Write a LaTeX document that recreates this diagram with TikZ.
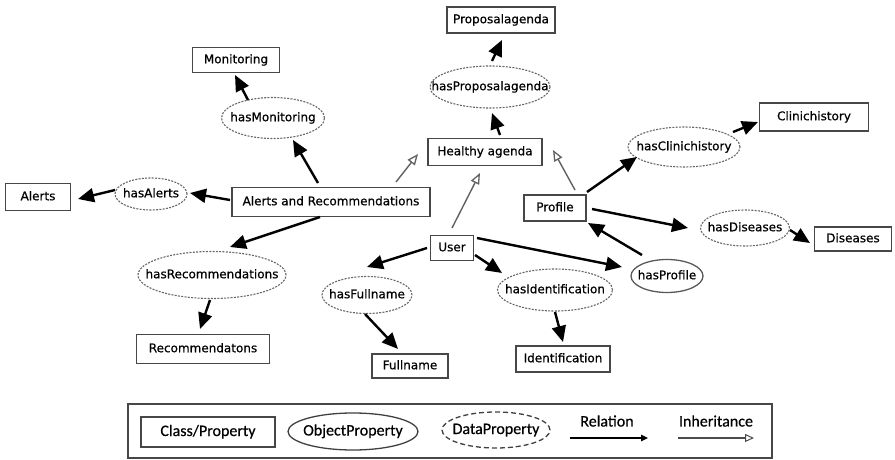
\documentclass[tikz,border=0pt]{standalone}
\usepackage{fontspec}
\setmainfont{DejaVu Sans}[UprightFeatures={FakeBold=0.6}]
\newfontfamily\legfont{Carlito}[UprightFeatures={FakeBold=0.5}]
\usetikzlibrary{arrows.meta,shapes.geometric}
\newcommand{\zw}[1]{\makebox[0pt]{#1}}
\begin{document}
\begin{tikzpicture}[x=1pt,y=-1pt,
  font=\fontsize{12}{14}\selectfont,
  cls/.style={draw=black!72, line width=1.3pt, rectangle, inner sep=0pt,
              text height=9pt, text depth=2.5pt},
  dprop/.style={draw=black!60, line width=1.1pt, dash pattern=on 2pt off 1.3pt,
                ellipse, inner sep=0pt, text height=9pt, text depth=2.5pt},
  oprop/.style={draw=black!65, line width=1.3pt, ellipse, inner sep=0pt,
                text height=9pt, text depth=2.5pt},
  rel/.style={line width=2.4pt, -{Triangle[length=16pt,width=14pt]}},
  inh/.style={draw=black!62, line width=1.4pt,
              -{Triangle[open,length=11pt,width=9pt,line width=1.3pt]}},
  legtext/.style={font=\legfont\fontsize{16}{18}\selectfont},
  legrel/.style={line width=1.1pt, -{Triangle[length=7pt,width=6.5pt]}},
  leginh/.style={draw=black!70, line width=1.1pt,
                 -{Triangle[open,length=9pt,width=8pt,line width=1pt]}}]

\useasboundingbox (0,0) rectangle (895,460);

% ---------- classes ----------
\node[cls, minimum width=108, minimum height=26] (pa) at (501,20) {Proposalagenda};
\node[cls, minimum width=114, minimum height=27] (ha) at (485,152) {Healthy agenda};
\node[cls, minimum width=87,  minimum height=25] (mo) at (236,60) {Monitoring};
\node[cls, minimum width=65,  minimum height=27] (al) at (38,197) {Alerts};
\node[cls, minimum width=198, minimum height=29] (ar) at (331,202) {Alerts and Recommendations};
\node[cls, minimum width=133, minimum height=29] (re) at (203,349) {Recommendatons};
\node[cls, minimum width=76,  minimum height=24] (fn) at (410,366) {Fullname};
\node[cls, minimum width=43,  minimum height=25] (us) at (452,248) {User};
\node[cls, minimum width=94,  minimum height=26] (id) at (563,359) {Identification};
\node[cls, minimum width=62,  minimum height=26] (pr) at (555,208) {Profile};
\node[cls, minimum width=109, minimum height=28] (ch) at (814,117) {Clinichistory};
\node[cls, minimum width=77,  minimum height=24] (di) at (853,239) {Diseases};

% ---------- properties ----------
\node[dprop, minimum width=120, minimum height=42] (hpa) at (490,87) {\zw{hasProposalagenda}};
\node[dprop, minimum width=103, minimum height=41] (hmo) at (273,118) {\zw{hasMonitoring}};
\node[dprop, minimum width=72,  minimum height=32] (hal) at (151,194) {\zw{hasAlerts}};
\node[dprop, minimum width=148, minimum height=47] (hre) at (212,275) {\zw{hasRecommendations}};
\node[dprop, minimum width=90,  minimum height=37] (hfn) at (367,295) {\zw{hasFullname}};
\node[dprop, minimum width=115, minimum height=42] (hid) at (555,290) {\zw{hasIdentification}};
\node[oprop, minimum width=72,  minimum height=33] (hpr) at (667,276) {\zw{hasProfile}};
\node[dprop, minimum width=112, minimum height=40] (hch) at (684,147) {\zw{hasClinichistory}};
\node[dprop, minimum width=89,  minimum height=36] (hdi) at (745,228) {\zw{hasDiseases}};

% ---------- relations ----------
\draw[rel] ([xshift=-13pt,yshift=19pt]ar.center) -- ([xshift=20pt,yshift=-22pt]hmo.center);
\draw[rel] ([xshift=-25pt,yshift=18pt]hmo.center) -- ([xshift=-1pt,yshift=-15pt]mo.center);
\draw[rel] ([xshift=-101pt,yshift=2pt]ar.center) -- ([xshift=39pt,yshift=1pt]hal.center);
\draw[rel] ([xshift=-36pt,yshift=4pt]hal.center) -- ([xshift=40pt,yshift=-2pt]al.center);
\draw[rel] ([xshift=-11pt,yshift=-15pt]ar.center) -- ([xshift=18pt,yshift=28pt]hre.center);
\draw[rel] ([xshift=-2pt,yshift=-25pt]hre.center) -- ([xshift=-3pt,yshift=20pt]re.center);
\draw[rel] ([xshift=-25pt]us.center) -- ([yshift=28pt]hfn.center);
\draw[rel] ([xshift=-2pt,yshift=-19pt]hfn.center) -- ([xshift=-12pt,yshift=17pt]fn.center);
\draw[rel] ([xshift=23pt,yshift=-7pt]us.center) -- ([xshift=-53pt,yshift=17pt]hid.center);
\draw[rel] ([yshift=-22pt]hid.center) -- ([yshift=17pt]id.center);
\draw[rel] ([xshift=25pt,yshift=10pt]us.center) -- ([xshift=-45pt,yshift=9pt]hpr.center);
\draw[rel] ([xshift=-25pt,yshift=21pt]hpr.center) -- ([xshift=33pt,yshift=-15pt]pr.center);
\draw[rel] ([xshift=37pt,yshift=-1pt]pr.center) -- ([xshift=-57pt]hdi.center);
\draw[rel] ([xshift=45pt,yshift=-2pt]hdi.center) -- ([xshift=-43pt,yshift=-4pt]di.center);
\draw[rel] ([xshift=32pt,yshift=16pt]pr.center) -- ([xshift=-47pt,yshift=-10pt]hch.center);
\draw[rel] ([xshift=49pt,yshift=15pt]hch.center) -- ([xshift=-56pt,yshift=-5pt]ch.center);
\draw[rel] ([xshift=15pt,yshift=17pt]ha.center) -- ([xshift=2pt,yshift=-26pt]hpa.center);
\draw[rel] ([xshift=2pt,yshift=26pt]hpa.center) -- ([xshift=1pt,yshift=-20pt]pa.center);

% ---------- inheritance ----------
\draw[inh] ([xshift=65pt,yshift=20pt]ar.center) -- ([xshift=-67pt,yshift=-2pt]ha.center);
\draw[inh] ([yshift=20pt]us.center) -- ([xshift=-5pt,yshift=-21pt]ha.center);
\draw[inh] ([xshift=20pt,yshift=18pt]pr.center) -- ([xshift=68pt,yshift=2pt]ha.center);

% ---------- legend ----------
\node[draw=black!72, line width=1.3pt, minimum width=644, minimum height=54,
      inner sep=0pt] (legend) at (450,431) {};
\node[cls, legtext, minimum width=134, minimum height=30, text height=11pt, text depth=3pt]
      (lcls) at (208,432) {Class/Property};
\node[oprop, legtext, draw=black!75, minimum width=130, minimum height=37,
      text height=11pt, text depth=3pt] (lobj) at (353,431.5) {\zw{ObjectProperty}};
\node[ellipse, legtext, draw=black!75, line width=1.3pt, dash pattern=on 5pt off 3pt,
      inner sep=0pt, minimum width=108, minimum height=36,
      text height=11pt, text depth=3pt] (ldat) at (496,430) {\zw{DataProperty}};
\node[legtext, inner sep=0pt] (lrel) at (607,421) {Relation};
\node[legtext, inner sep=0pt] (linh) at (716,421) {Inheritance};
\coordinate (r1) at (570,438);
\coordinate (r2) at (648,438);
\coordinate (i1) at (678,438);
\coordinate (i2) at (754,438);
\draw[legrel] (r1) -- (r2);
\draw[leginh] (i1) -- (i2);
\end{tikzpicture}
\end{document}
